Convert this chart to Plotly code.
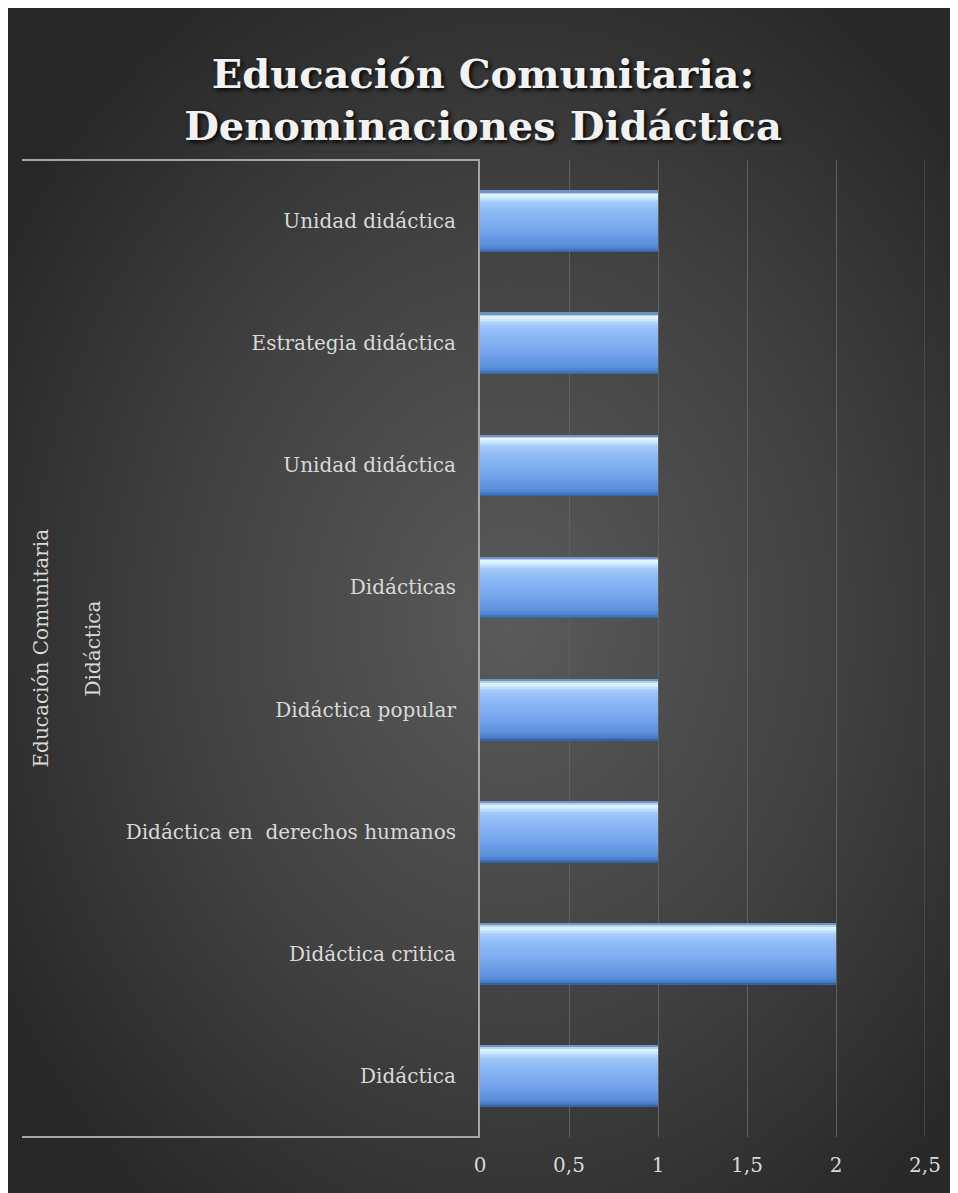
import base64
import plotly.graph_objects as go

# ---- data (top-to-bottom as shown in the chart) ----
categories = [
    "Unidad didáctica",
    "Estrategia didáctica",
    "Unidad didáctica",
    "Didácticas",
    "Didáctica popular",
    "Didáctica en  derechos humanos",
    "Didáctica critica",
    "Didáctica",
]
values = [1, 1, 1, 1, 1, 1, 2, 1]
group_level1 = "Educación Comunitaria"
group_level2 = "Didáctica"
x_tick_vals = [0, 0.5, 1, 1.5, 2, 2.5]
x_tick_text = ["0", "0,5", "1", "1,5", "2", "2,5"]
title_text = "Educación Comunitaria:<br>Denominaciones Didáctica"

# bottom-to-top for plotly
cats_bt = categories[::-1]
vals_bt = values[::-1]
ypos = list(range(len(cats_bt)))

W, H = 950, 1185
ML, MR, MT, MB = 472, 33, 152, 56
PW, PH = W - ML - MR, H - MT - MB

fig = go.Figure()

# ---- bevelled bar look: the same bars drawn as thin horizontal colour strips ----
BAR_W = 0.5
stops = [  # (fraction from bar bottom, colour)
    (0.00, (0x33, 0x5d, 0x9c)),
    (0.05, (0x48, 0x7b, 0xc6)),
    (0.12, (0x5a, 0x8f, 0xdb)),
    (0.40, (0x79, 0xa8, 0xee)),
    (0.70, (0x92, 0xbc, 0xf6)),
    (0.82, (0xa6, 0xcc, 0xfa)),
    (0.90, (0xd2, 0xed, 0xff)),
    (0.95, (0xe6, 0xf7, 0xff)),
    (0.975, (0x86, 0xa8, 0xd6)),
    (1.00, (0x5a, 0x7f, 0xb5)),
]


def colour_at(t):
    for (t0, c0), (t1, c1) in zip(stops[:-1], stops[1:]):
        if t0 <= t <= t1:
            f = (t - t0) / (t1 - t0) if t1 > t0 else 0
            c = [round(a + (b - a) * f) for a, b in zip(c0, c1)]
            return "#%02x%02x%02x" % tuple(c)
    return "#%02x%02x%02x" % stops[-1][1]


N = 40
step = BAR_W / N
for k in range(N):
    t = (k + 0.5) / N
    fig.add_trace(go.Bar(
        x=vals_bt, y=ypos, orientation="h",
        offset=-BAR_W / 2 + k * step, width=step * 1.15,
        marker=dict(color=colour_at(t), line=dict(width=0)),
        hoverinfo="skip", showlegend=False,
    ))

# radial gradient background
svg = (
    f'<svg xmlns="http://www.w3.org/2000/svg" width="{W}" height="{H}">'
    '<defs><radialGradient id="g" cx="53%" cy="52%" r="62%">'
    '<stop offset="0" stop-color="#5a5a5a"/>'
    '<stop offset="0.55" stop-color="#414141"/>'
    '<stop offset="1" stop-color="#282828"/>'
    '</radialGradient></defs>'
    f'<rect width="{W}" height="{H}" fill="url(#g)"/></svg>'
)
src = "data:image/svg+xml;base64," + base64.b64encode(svg.encode()).decode()

fig.update_layout(
    width=W, height=H,
    margin=dict(l=ML, r=MR, t=MT, b=MB),
    paper_bgcolor="#2d2d2d",
    plot_bgcolor="rgba(0,0,0,0)",
    barmode="overlay",
    bargap=0,
    showlegend=False,
    images=[dict(
        source=src, xref="paper", yref="paper",
        x=-ML / PW, y=1 + MT / PH, sizex=W / PW, sizey=H / PH,
        xanchor="left", yanchor="top", sizing="stretch", layer="below",
    )],
    title=dict(
        text=title_text,
        x=0.5, xref="container", xanchor="center",
        y=1 - 80 / H, yref="container", yanchor="top",
        font=dict(family="DejaVu Serif", size=40, color="#f2f2f2",
                  weight="bold", shadow="2px 2px 4px #000000"),
    ),
    xaxis=dict(
        range=[0, 2.5], tickvals=x_tick_vals, ticktext=x_tick_text,
        showgrid=True, gridcolor="#606060", gridwidth=1,
        zeroline=False, showline=False, ticks="",
        ticklabelstandoff=14,
        tickfont=dict(family="DejaVu Serif", size=20, color="#d9d9d9"),
    ),
    yaxis=dict(
        range=[-0.5, len(cats_bt) - 0.5],
        tickvals=ypos, ticktext=cats_bt,
        showgrid=False, zeroline=False, ticks="",
        showline=True, linecolor="#a6a6a6", linewidth=2,
        ticklabelstandoff=18,
        tickfont=dict(family="DejaVu Serif", size=20, color="#d9d9d9"),
    ),
    shapes=[
        dict(type="line", xref="paper", yref="paper",
             x0=(22 - 480) / PW, x1=0, y0=1, y1=1,
             line=dict(color="#a6a6a6", width=2)),
        dict(type="line", xref="paper", yref="paper",
             x0=(22 - 480) / PW, x1=0, y0=0, y1=0,
             line=dict(color="#a6a6a6", width=2)),
        # gridline at the last tick (plotly omits it at the range edge)
        dict(type="line", xref="x", yref="paper",
             x0=x_tick_vals[-1], x1=x_tick_vals[-1], y0=0, y1=1,
             line=dict(color="#606060", width=1), layer="below"),
    ],
    annotations=[
        dict(text=group_level1, xref="paper", yref="paper",
             x=(32 - ML) / PW, y=0.5, textangle=-90, showarrow=False,
             xanchor="center", yanchor="middle",
             font=dict(family="DejaVu Serif", size=20, color="#d9d9d9")),
        dict(text=group_level2, xref="paper", yref="paper",
             x=(84 - ML) / PW, y=0.5, textangle=-90, showarrow=False,
             xanchor="center", yanchor="middle",
             font=dict(family="DejaVu Serif", size=20, color="#d9d9d9")),
    ],
)

fig.write_html(
    "out.html",
    post_script="document.documentElement.style.overflow='hidden';"
                "document.body.style.overflow='hidden';",
)
